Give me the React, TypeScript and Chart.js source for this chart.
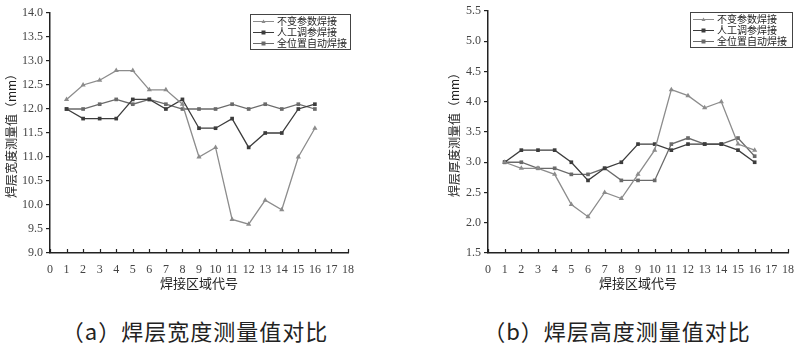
import React, { useEffect, useRef } from "react";
import { Chart, registerables } from "chart.js";
Chart.register(...registerables);

// ---- data ----
const zones = [1, 2, 3, 4, 5, 6, 7, 8, 9, 10, 11, 12, 13, 14, 15, 16];
const seriesNames = ["不变参数焊接", "人工调参焊接", "全位置自动焊接"];

const widthConst = [12.2, 12.5, 12.6, 12.8, 12.8, 12.4, 12.4, 12.1, 11.0, 11.2, 9.7, 9.6, 10.1, 9.9, 11.0, 11.6];
const widthManual = [12.0, 11.8, 11.8, 11.8, 12.2, 12.2, 12.0, 12.2, 11.6, 11.6, 11.8, 11.2, 11.5, 11.5, 12.0, 12.1];
const widthAuto = [12.0, 12.0, 12.1, 12.2, 12.1, 12.2, 12.1, 12.0, 12.0, 12.0, 12.1, 12.0, 12.1, 12.0, 12.1, 12.0];

const heightConst = [3.0, 2.9, 2.9, 2.8, 2.3, 2.1, 2.5, 2.4, 2.8, 3.2, 4.2, 4.1, 3.9, 4.0, 3.3, 3.2];
const heightManual = [3.0, 3.2, 3.2, 3.2, 3.0, 2.7, 2.9, 3.0, 3.3, 3.3, 3.2, 3.3, 3.3, 3.3, 3.2, 3.0];
const heightAuto = [3.0, 3.0, 2.9, 2.9, 2.8, 2.8, 2.9, 2.7, 2.7, 2.7, 3.3, 3.4, 3.3, 3.3, 3.4, 3.1];

const xTitle = "焊接区域代号";
const leftYTitle = "焊层宽度测量值（mm）";
const rightYTitle = "焊层厚度测量值（mm）";
const captionA = "（a）焊层宽度测量值对比";
const captionB = "（b）焊层高度测量值对比";

const colors = ["#8c8c8c", "#3c3c3c", "#6a6a6a"];
const pointStyles = ["triangle", "rect", "rect"];
const pointRadii = [3, 2.6, 2.6];

const CJK = "'Noto Sans CJK SC', 'Noto Sans', sans-serif";
const NUM = "'Liberation Serif', 'DejaVu Serif', serif";

function drawMarker(ctx: CanvasRenderingContext2D, style: string, x: number, y: number, r: number, color: string) {
  ctx.fillStyle = color;
  ctx.beginPath();
  if (style === "triangle") {
    ctx.moveTo(x, y - r);
    ctx.lineTo(x + r, y + r * 0.8);
    ctx.lineTo(x - r, y + r * 0.8);
    ctx.closePath();
  } else {
    ctx.rect(x - r, y - r, r * 2, r * 2);
  }
  ctx.fill();
}

const boxLegend = {
  id: "boxLegend",
  afterDraw(chart: any, _args: any, opts: any) {
    const { ctx } = chart;
    const { x, y, w, h } = opts;
    ctx.save();
    ctx.strokeStyle = "#444";
    ctx.lineWidth = 1;
    ctx.strokeRect(x + 0.5, y + 0.5, w, h);
    chart.data.datasets.forEach((ds: any, i: number) => {
      const cy = y + 7.5 + i * 11;
      ctx.strokeStyle = ds.borderColor;
      ctx.lineWidth = 1;
      ctx.beginPath();
      ctx.moveTo(x + 3, cy);
      ctx.lineTo(x + 24, cy);
      ctx.stroke();
      drawMarker(ctx, ds.pointStyle, x + 13.5, cy, 2, ds.borderColor);
      ctx.fillStyle = "#222";
      ctx.font = `10px ${CJK}`;
      ctx.textBaseline = "middle";
      ctx.textAlign = "left";
      ctx.fillText(ds.label, x + 27, cy);
    });
    ctx.restore();
  },
};

const innerTicks = {
  id: "innerTicks",
  afterDraw(chart: any) {
    const { ctx, chartArea } = chart;
    const xs = chart.scales.x;
    ctx.save();
    ctx.strokeStyle = "#222";
    ctx.lineWidth = 1.2;
    xs.ticks.forEach((t: any) => {
      const px = Math.round(xs.getPixelForValue(t.value)) + 0.5;
      ctx.beginPath();
      ctx.moveTo(px, chartArea.bottom);
      ctx.lineTo(px, chartArea.bottom - 4);
      ctx.stroke();
    });
    ctx.restore();
  },
};

function makeConfig(
  series: number[][],
  yMin: number,
  yMax: number,
  yTitle: string,
  yWidth: number,
  padding: any,
  legendPos: any
) {
  return {
    type: "line" as const,
    data: {
      datasets: series.map((vals, i) => ({
        label: seriesNames[i],
        data: zones.map((z, k) => ({ x: z, y: vals[k] })),
        borderColor: colors[i],
        backgroundColor: colors[i],
        borderWidth: 1.3,
        pointStyle: pointStyles[i],
        pointRadius: pointRadii[i],
        pointBorderWidth: 0,
        tension: 0,
        fill: false,
      })),
    },
    options: {
      responsive: false,
      animation: false,
      layout: { padding },
      plugins: {
        legend: { display: false },
        tooltip: { enabled: false },
        boxLegend: legendPos,
      },
      scales: {
        x: {
          type: "linear",
          min: 0,
          max: 18,
          ticks: {
            stepSize: 1,
            padding: 2,
            autoSkip: false,
            minRotation: 0,
            maxRotation: 0,
            color: "#444",
            font: { family: NUM, size: 12 },
          },
          grid: { display: false },
          border: { display: true, color: "#222", width: 1.5 },
          title: { display: true, text: xTitle, color: "#222", font: { family: CJK, size: 13 }, padding: { top: 2, bottom: 4 } },
          afterFit: (s: any) => { s.height = 42; },
        },
        y: {
          min: yMin,
          max: yMax,
          ticks: {
            stepSize: 0.5,
            padding: 3,
            color: "#444",
            font: { family: NUM, size: 12 },
            callback: (v: any) => Number(v).toFixed(1),
          },
          grid: { display: true, drawOnChartArea: false, drawTicks: true, tickLength: 4, color: "#222", lineWidth: 1.2 },
          border: { display: true, color: "#222", width: 1.5 },
          title: { display: true, text: yTitle, color: "#222", font: { family: CJK, size: 12 }, padding: { top: 4, bottom: 2 } },
          afterFit: (s: any) => { s.width = yWidth; },
        },
      },
    },
    plugins: [boxLegend, innerTicks],
  };
}

export default function App() {
  const leftRef = useRef<HTMLCanvasElement>(null);
  const rightRef = useRef<HTMLCanvasElement>(null);

  useEffect(() => {
    const c1 = new Chart(
      leftRef.current as HTMLCanvasElement,
      makeConfig(
        [widthConst, widthManual, widthAuto],
        9,
        14,
        leftYTitle,
        50,
        { left: 0, right: 52, top: 13, bottom: 0 },
        { x: 250, y: 14, w: 100, h: 35 }
      ) as any
    );
    const c2 = new Chart(
      rightRef.current as HTMLCanvasElement,
      makeConfig(
        [heightConst, heightManual, heightAuto],
        1.5,
        5.5,
        rightYTitle,
        45,
        { left: 43, right: 12, top: 11, bottom: 0 },
        { x: 290, y: 12, w: 102, h: 35 }
      ) as any
    );
    return () => {
      c1.destroy();
      c2.destroy();
    };
  }, []);

  const capStyle: React.CSSProperties = {
    position: "absolute",
    top: 316,
    width: 400,
    textAlign: "center",
    fontFamily: CJK,
    fontSize: 22,
    letterSpacing: "1px",
    lineHeight: "28px",
    color: "#222",
    whiteSpace: "nowrap",
  };

  return (
    <div style={{ position: "fixed", left: 0, top: 0, width: 800, height: 352, background: "#fff", overflow: "hidden" }}>
      <canvas ref={leftRef} width={400} height={295} style={{ position: "absolute", left: 0, top: 0, width: 400, height: 295 }} />
      <canvas ref={rightRef} width={400} height={295} style={{ position: "absolute", left: 400, top: 0, width: 400, height: 295 }} />
      <div style={{ ...capStyle, left: -5 }}>{captionA}</div>
      <div style={{ ...capStyle, left: 417 }}>{captionB}</div>
    </div>
  );
}
